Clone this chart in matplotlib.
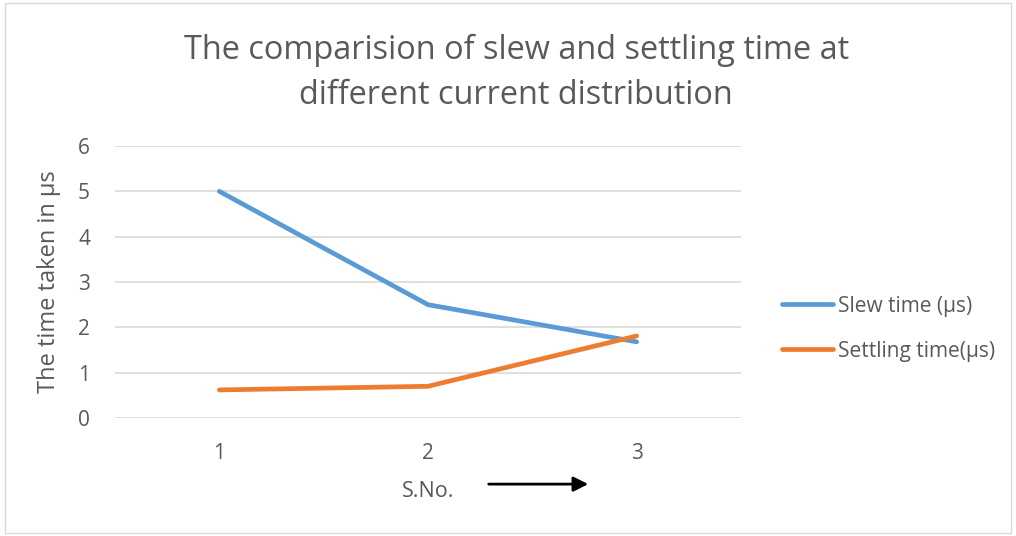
import matplotlib.pyplot as plt
from matplotlib.patches import Rectangle

# S.No. vs time (in us)
s_no = [1, 2, 3]
slew_time = [5.0, 2.5, 1.68]
settling_time = [0.62, 0.70, 1.81]
y_ticks = [0, 1, 2, 3, 4, 5, 6]

plt.rcParams['font.family'] = ['Open Sans', 'DejaVu Sans']
txt = '#595959'
grid = '#D9D9D9'

fig = plt.figure(figsize=(10.16, 5.36), dpi=100)
ax = fig.add_axes([0.1132, 0.2201, 0.6161, 0.5075])

ax.plot(s_no, slew_time, color='#5B9BD5', lw=3.4, solid_capstyle='round',
        label='Slew time (µs)')
ax.plot(s_no, settling_time, color='#ED7D31', lw=3.4, solid_capstyle='round',
        label='Settling time(µs)')

ax.set_xlim(0.5, 3.5)
ax.set_ylim(0, 6)
ax.set_xticks(s_no)
ax.set_yticks(y_ticks)
ax.tick_params(length=0, colors=txt, labelsize=15)
ax.tick_params(axis='x', pad=18)
ax.tick_params(axis='y', pad=18)
ax.grid(axis='y', color=grid, lw=1.2)
ax.set_axisbelow(True)
for s in ax.spines.values():
    s.set_visible(False)

ax.set_xlabel('S.No.', color=txt, fontsize=15.5, labelpad=12)
ax.set_ylabel('The time taken in µs', color=txt, fontsize=17, labelpad=12)

fig.text(0.508, 0.864, 'The comparision of slew and settling time at\ndifferent current distribution',
         color=txt, fontsize=23.4, ha='center', va='center', linespacing=1.5)

ax.annotate('', xy=(0.756, -0.243), xytext=(0.597, -0.243),
            xycoords='axes fraction',
            arrowprops=dict(arrowstyle='-|>', color='black', lw=2,
                            mutation_scale=22, shrinkA=0, shrinkB=0))

ax.legend(loc='center left', bbox_to_anchor=(1.065, 0.329), frameon=False,
          fontsize=15, handlelength=2.45, handletextpad=0.25,
          labelspacing=1.15, labelcolor=txt, borderaxespad=0, borderpad=0)

fig.patches.append(Rectangle((0.005, 0.005), 0.99, 0.99, transform=fig.transFigure,
                             fill=False, edgecolor='#D9D9D9', lw=1))

fig.savefig('out.png', dpi=100)
